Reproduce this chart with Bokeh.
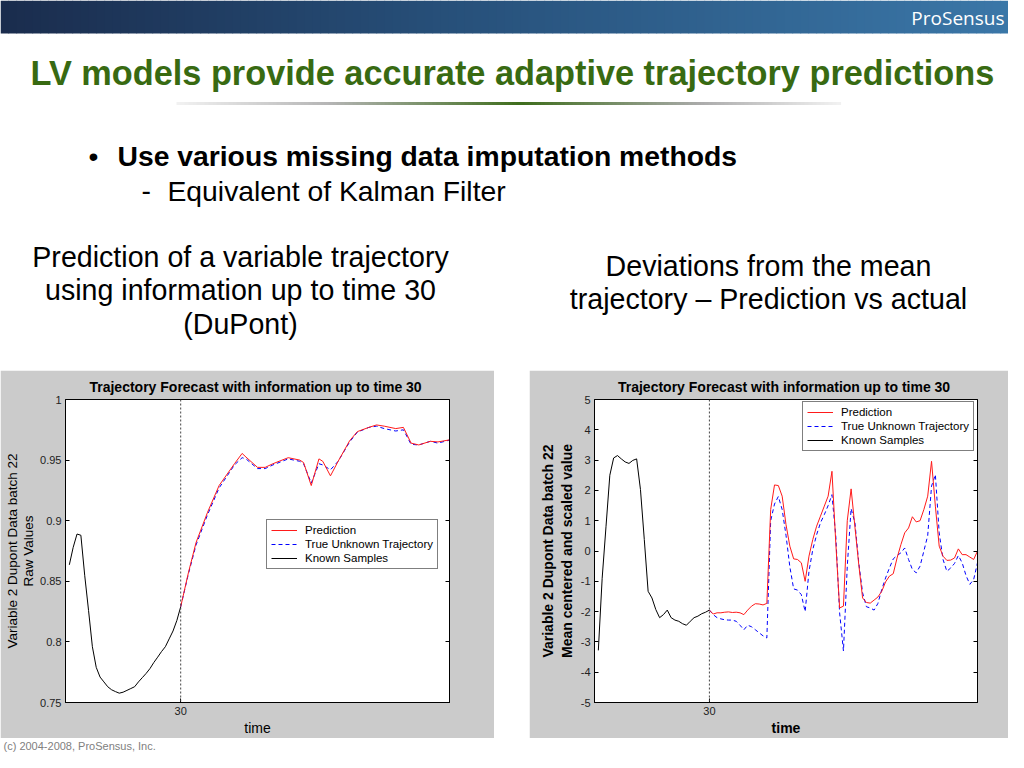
import numpy as np
from bokeh.plotting import figure
from bokeh.models import Range1d, FixedTicker, LinearAxis, Span, Legend, LegendItem, Spacer
from bokeh.layouts import column, row
from bokeh.core.properties import value
from bokeh.embed import file_html
from bokeh.resources import INLINE

# ---------------- data ----------------
slide_title = "LV models provide accurate adaptive trajectory predictions"
bullet_main = "Use various missing data imputation methods"
bullet_sub = "Equivalent of Kalman Filter"
left_caption = ["Prediction of a variable trajectory", "using information up to time 30", "(DuPont)"]
right_caption = ["Deviations from the mean", "trajectory \u2013 Prediction vs actual"]
footer_text = "(c) 2004-2008, ProSensus, Inc."
logo_text = "ProSensus"

chart_title = "Trajectory Forecast with information up to  time 30"
x_label = "time"
left_y_label = "Variable 2 Dupont Data batch 22\nRaw Values"
right_y_label = "Variable 2 Dupont Data batch 22\nMean centered and scaled value"
series_names = ["Prediction", "True Unknown Trajectory", "Known Samples"]

time_ticks = [30]
time_tick_labels = ["30"]
left_y_ticks = [0.75, 0.8, 0.85, 0.9, 0.95, 1.0]
left_y_tick_labels = ["0.75", "0.8", "0.85", "0.9", "0.95", "1"]
right_y_ticks = [-5, -4, -3, -2, -1, 0, 1, 2, 3, 4, 5]
right_y_tick_labels = ["-5", "-4", "-3", "-2", "-1", "0", "1", "2", "3", "4", "5"]

# left chart (raw values)
left_known_t = list(range(1, 31))
left_known = [0.8636, 0.878, 0.889, 0.888, 0.855, 0.826, 0.796, 0.779, 0.771, 0.767,
              0.763, 0.7605, 0.759, 0.7577, 0.7585, 0.760, 0.7615, 0.763, 0.767, 0.7705,
              0.774, 0.778, 0.783, 0.7874, 0.792, 0.796, 0.8025, 0.809, 0.8177, 0.829]
left_fc_t = [30, 32, 34, 37, 40, 44, 46, 47, 50, 52, 54, 58, 61, 62, 64, 66, 67, 69, 71,
             74, 76, 79, 81, 83, 86, 88, 90, 92, 95, 97, 100]
left_pred = [0.829, 0.857, 0.882, 0.907, 0.929, 0.947, 0.9555, 0.9525, 0.944, 0.944, 0.947,
             0.952, 0.950, 0.948, 0.929, 0.951, 0.949, 0.937, 0.949, 0.966, 0.9735, 0.977,
             0.979, 0.978, 0.976, 0.977, 0.964, 0.9625, 0.9655, 0.965, 0.9667]
left_true = [0.829, 0.856, 0.880, 0.905, 0.927, 0.946, 0.952, 0.951, 0.943, 0.943, 0.946,
             0.951, 0.949, 0.947, 0.931, 0.947, 0.946, 0.942, 0.949, 0.965, 0.973, 0.977,
             0.978, 0.976, 0.974, 0.975, 0.963, 0.9625, 0.9655, 0.964, 0.9665]

# right chart (mean centred and scaled)
right_known_t = list(range(1, 31))
right_known = [-3.28, -0.90, 0.80, 2.50, 3.07, 3.15, 3.04, 2.94, 2.89, 2.99,
               3.04, 2.03, 0.38, -1.33, -1.55, -1.93, -2.20, -2.10, -1.95, -2.20,
               -2.28, -2.32, -2.40, -2.45, -2.32, -2.20, -2.15, -2.07, -2.02, -1.95]
right_fc_t = list(range(30, 101))
right_pred = [-1.95, -2.08, -2.04, -2.04, -2.02, -2.01, -2.03, -2.02, -2.04, -2.10,
              -1.95, -1.82, -1.74, -1.75, -1.78, -1.73, 1.37, 2.18, 2.16, 1.81,
              0.87, 0.16, -0.26, -0.28, -0.39, -1.00, -0.17, 0.38, 0.82, 1.15,
              1.48, 1.81, 2.63, 0.27, -1.88, -1.82, 1.00, 2.05, 0.79, -0.45,
              -1.55, -1.70, -1.72, -1.62, -1.52, -1.33, -1.02, -0.83, -0.75, -0.23,
              0.21, 0.60, 0.76, 1.13, 0.96, 1.00, 1.37, 1.81, 2.96, 1.48,
              0.16, -0.17, -0.31, -0.30, -0.23, 0.07, -0.12, -0.12, -0.20, -0.28,
              0.00]
right_true = [-1.95, -2.10, -2.20, -2.24, -2.27, -2.28, -2.28, -2.32, -2.45, -2.60,
              -2.45, -2.50, -2.60, -2.70, -2.80, -2.87, 1.00, 1.55, 1.80, 1.37,
              0.52, -0.52, -1.25, -1.29, -1.44, -2.00, -0.67, 0.05, 0.54, 0.93,
              1.20, 1.50, 1.86, 0.49, -2.04, -3.30, -0.50, 1.40, 0.93, -0.39,
              -1.38, -1.84, -1.88, -1.95, -1.73, -1.27, -0.89, -0.56, -0.26, -0.15,
              -0.06, 0.10, -0.28, -0.61, -0.72, -0.50, 0.00, 0.51, 2.14, 2.52,
              0.60, -0.28, -0.67, -0.56, -0.41, -0.15, -0.39, -0.81, -1.10, -0.94,
              -0.39]

# ---------------- styling ----------------
FONT = "Liberation Sans"
GRAY = "#cbcbcb"
GREEN = "#386a12"
PAGE_W = 1008


def hex2rgb(h):
    h = h.lstrip("#")
    return np.array([int(h[i:i + 2], 16) for i in (0, 2, 4)], dtype=float)


def gradient(stops, positions):
    ps = [s[0] for s in stops]
    cs = [hex2rgb(s[1]) for s in stops]
    out = []
    for x in positions:
        r = [np.interp(x, ps, [c[k] for c in cs]) for k in range(3)]
        out.append("#%02x%02x%02x" % tuple(int(round(v)) for v in r))
    return out


def deco_figure(height, y_top, y_bottom):
    f = figure(width=PAGE_W, height=height, x_range=Range1d(0, PAGE_W),
               y_range=Range1d(y_bottom, y_top), min_border=0,
               toolbar_location=None, output_backend="svg",
               x_axis_location=None, y_axis_location=None,
               outline_line_color=None, background_fill_color="white",
               border_fill_color="white")
    f.grid.visible = False
    return f


def add_text(f, x, y, txt, size, color="black", style="normal", align="left", font=FONT):
    f.text(x=[x], y=[y], text=[txt], text_font=value(font), text_font_size=value(size),
           text_font_style=style, text_color=color, text_align=align,
           text_baseline="middle")


# ---------------- top slide area ----------------
top = deco_figure(370, 0, 370)

edges = np.linspace(0, 1024, 129)
mids = (edges[:-1] + edges[1:]) / 2
hdr_cols = gradient([(0, "#1a2c4d"), (450, "#27507a"), (1024, "#3b78a9")], mids)
top.quad(left=edges[:-1], right=edges[1:] + 0.6, top=0, bottom=33,
         fill_color=hdr_cols, line_color=None)
add_text(top, 1004, 17, logo_text, "19px", color="white", align="right", font="Open Sans")

add_text(top, 30, 72, slide_title, "34.3px", color=GREEN, style="bold")

bar_edges = np.linspace(176, 840, 167)
bar_mids = (bar_edges[:-1] + bar_edges[1:]) / 2
bar_cols = gradient([(176, "#f2f2f2"), (330, "#b4b4b4"), (520, "#3e6d1c"),
                     (700, "#ababab"), (840, "#f2f2f2")], bar_mids)
top.quad(left=bar_edges[:-1], right=bar_edges[1:] + 0.6, top=101.5, bottom=104.5,
         fill_color=bar_cols, line_color=None)

add_text(top, 88, 155, "\u2022", "28.3px")
add_text(top, 117, 155, bullet_main, "28.3px", style="bold")
add_text(top, 141, 190, "-", "28.3px")
add_text(top, 167, 190, bullet_sub, "28.3px")

for i, line in enumerate(left_caption):
    add_text(top, 240, 256 + 33.5 * i, line, "28.6px", align="center")
for i, line in enumerate(right_caption):
    add_text(top, 768, 265 + 33 * i, line, "28.6px", align="center")


# ---------------- charts ----------------
def make_chart(width, bl, br, y_rng, yticks, ylabels, ylab, bold_labels,
               kt, kv, ft, pv, tv, legend_loc):
    p = figure(width=width, height=368, x_range=Range1d(0, 100), y_range=Range1d(*y_rng),
               toolbar_location=None, output_backend="svg",
               min_border_left=bl, min_border_right=br, min_border_top=29,
               min_border_bottom=36, background_fill_color="white",
               border_fill_color=GRAY, outline_line_color="black", outline_line_width=1)
    p.grid.visible = False
    p.title.text = chart_title
    p.title.align = "center"
    p.title.text_font = FONT
    p.title.text_font_size = "14px"
    p.title.text_font_style = "bold"
    p.title.text_color = "black"
    p.title.standoff = 9

    lab_style = "bold" if bold_labels else "normal"
    xa = p.xaxis[0]
    xa.ticker = FixedTicker(ticks=time_ticks)
    xa.major_label_overrides = dict(zip(time_ticks, time_tick_labels))
    xa.axis_label = x_label
    ya = p.yaxis[0]
    ya.ticker = FixedTicker(ticks=yticks)
    ya.major_label_overrides = dict(zip(yticks, ylabels))
    ya.axis_label = ylab
    for ax in (xa, ya):
        ax.major_tick_in = 4
        ax.major_tick_out = 0
        ax.minor_tick_line_color = None
        ax.axis_line_color = "black"
        ax.major_tick_line_color = "black"
        ax.major_label_text_font = FONT
        ax.major_label_text_font_size = "11px"
        ax.major_label_text_color = "#222222"
        ax.major_label_standoff = 4
        ax.axis_label_text_font = FONT
        ax.axis_label_text_font_size = "14px"
        ax.axis_label_text_font_style = lab_style
        ax.axis_label_text_color = "black"
    xa.axis_label_standoff = 2
    ya.axis_label_standoff = 1 if not bold_labels else 3
    if not bold_labels:
        ya.axis_label_text_font_size = "13.5px"
        ya.axis_label_text_line_height = 1.1

    ra = LinearAxis(ticker=FixedTicker(ticks=yticks), major_tick_in=4, major_tick_out=0,
                    minor_tick_line_color=None, major_label_text_color=None,
                    axis_line_color="black", major_label_standoff=0)
    p.add_layout(ra, "right")

    p.add_layout(Span(location=30, dimension="height", line_color="#444444",
                      line_dash="2 2", line_width=1))

    r_true = p.line(ft, tv, line_color="#0000ff", line_dash="4 3", line_width=1)
    r_pred = p.line(ft, pv, line_color="#ff1a1a", line_width=1)
    r_known = p.line(kt, kv, line_color="black", line_width=1)

    leg = Legend(items=[LegendItem(label=series_names[0], renderers=[r_pred]),
                        LegendItem(label=series_names[1], renderers=[r_true]),
                        LegendItem(label=series_names[2], renderers=[r_known])],
                 location=legend_loc, border_line_color="black", border_line_width=1,
                 background_fill_color="white", background_fill_alpha=1.0,
                 label_text_font=FONT, label_text_font_size="11.5px",
                 label_text_color="black", glyph_width=26, glyph_height=12,
                 label_height=12, label_standoff=8, spacing=2, padding=4, margin=0)
    p.add_layout(leg)
    return p


left_chart = make_chart(494, 65, 45, (0.75, 1.0), left_y_ticks, left_y_tick_labels,
                        left_y_label, False, left_known_t, left_known,
                        left_fc_t, left_pred, left_true, (201, 133))
right_chart = make_chart(PAGE_W - 529, 65, 31, (-5, 5), right_y_ticks, right_y_tick_labels,
                         right_y_label, True, right_known_t, right_known,
                         right_fc_t, right_pred, right_true, (208, 251))

charts = row(left_chart, Spacer(width=35, height=368), right_chart)

# ---------------- footer ----------------
bottom = deco_figure(14, 738, 752)
add_text(bottom, 3, 745, footer_text, "11px", color="#808080")

layout = column(top, charts, bottom)
open("out.html", "w").write(file_html(layout, INLINE))
